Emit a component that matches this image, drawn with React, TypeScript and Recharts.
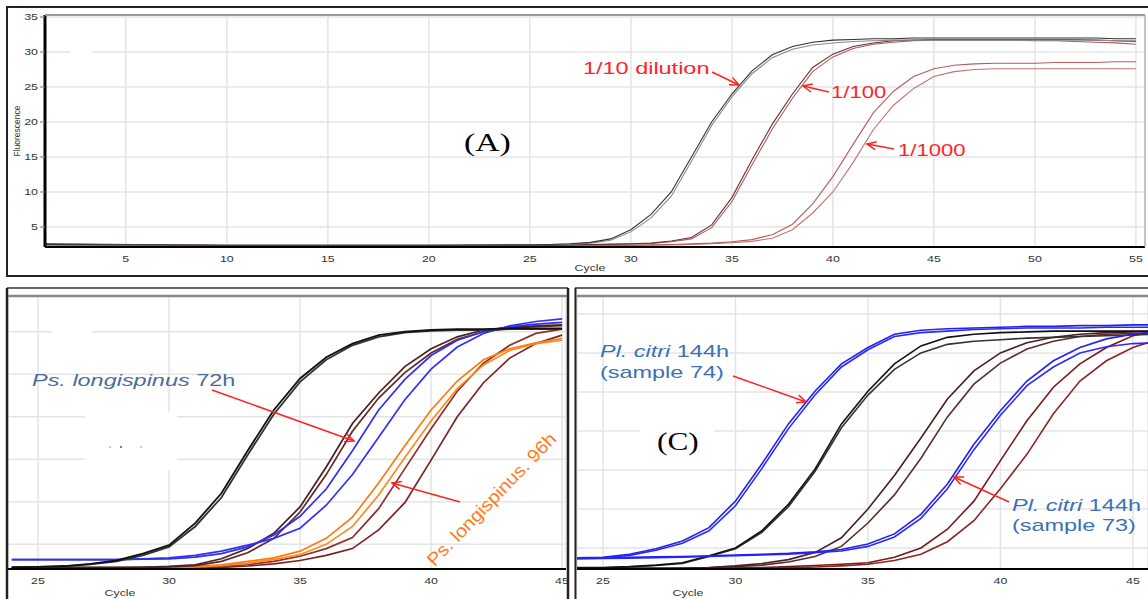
import React from "react";
import { CartesianGrid, Line, LineChart, XAxis, YAxis } from "recharts";

const FONT = "'Liberation Sans', Arial, sans-serif";
const SERIF = "'Liberation Serif', 'Times New Roman', serif";
// the source figure is stretched sideways, so text gets widened too
const SX = 1.38;

// ---- panel A: dilution series ----
const cyclesA = [1, 10, 20, 25, 26, 27, 28, 29, 30, 31, 32, 33, 34, 35, 36, 37, 38, 39, 40, 41, 42, 43, 44, 45, 46, 47, 48, 49, 50, 51, 52, 53, 54, 55];
const dil10a = [2.5, 2.4, 2.4, 2.45, 2.5, 2.6, 2.8, 3.3, 4.6, 6.8, 10.0, 15.0, 20.0, 24.0, 27.3, 29.6, 30.8, 31.4, 31.7, 31.8, 31.9, 31.9, 32.0, 32.0, 32.0, 32.0, 32.0, 32.0, 32.0, 32.0, 32.0, 32.0, 31.9, 31.9];
const dil10b = [2.45, 2.4, 2.4, 2.45, 2.5, 2.55, 2.7, 3.1, 4.3, 6.3, 9.4, 14.4, 19.5, 23.6, 26.9, 29.2, 30.4, 31.0, 31.3, 31.5, 31.6, 31.7, 31.7, 31.7, 31.7, 31.7, 31.7, 31.7, 31.7, 31.7, 31.7, 31.7, 31.6, 31.6];
const dil100a = [2.6, 2.4, 2.4, 2.4, 2.4, 2.45, 2.5, 2.55, 2.6, 2.7, 3.0, 3.5, 5.3, 9.2, 14.6, 19.7, 24.0, 27.8, 29.7, 30.8, 31.3, 31.6, 31.7, 31.8, 31.8, 31.8, 31.8, 31.8, 31.8, 31.8, 31.8, 31.7, 31.6, 31.5];
const dil100b = [2.55, 2.35, 2.35, 2.35, 2.35, 2.4, 2.45, 2.5, 2.55, 2.65, 2.9, 3.3, 4.9, 8.6, 13.9, 19.0, 23.4, 27.2, 29.3, 30.5, 31.1, 31.4, 31.6, 31.7, 31.7, 31.7, 31.7, 31.7, 31.6, 31.6, 31.5, 31.4, 31.3, 31.1];
const dil1000a = [2.5, 2.35, 2.35, 2.35, 2.35, 2.35, 2.35, 2.4, 2.4, 2.45, 2.5, 2.6, 2.7, 2.9, 3.2, 3.9, 5.4, 8.3, 12.2, 16.8, 21.3, 24.4, 26.5, 27.6, 28.1, 28.3, 28.4, 28.4, 28.4, 28.5, 28.5, 28.5, 28.6, 28.6];
const dil1000b = [2.4, 2.3, 2.3, 2.3, 2.3, 2.3, 2.3, 2.35, 2.35, 2.4, 2.45, 2.5, 2.6, 2.75, 2.95, 3.4, 4.6, 7.0, 10.0, 14.2, 18.9, 22.4, 24.8, 26.5, 27.2, 27.5, 27.6, 27.6, 27.6, 27.6, 27.6, 27.6, 27.6, 27.6];
const ticksAX = [5, 10, 15, 20, 25, 30, 35, 40, 45, 50, 55];
const ticksAY = [5, 10, 15, 20, 25, 30, 35];

// ---- panel B: Ps. longispinus ----
const cyclesB = [24, 25, 26, 27, 28, 29, 30, 31, 32, 33, 34, 35, 36, 37, 38, 39, 40, 41, 42, 43, 44, 45];
const blackB1 = [2.3, 2.35, 2.45, 2.7, 3.1, 3.9, 4.9, 7.5, 11.0, 16.0, 20.8, 24.5, 27.0, 28.6, 29.6, 30.0, 30.2, 30.3, 30.3, 30.4, 30.4, 30.4];
const blackB2 = [2.3, 2.35, 2.4, 2.65, 3.0, 3.7, 4.7, 7.1, 10.5, 15.5, 20.3, 24.1, 26.7, 28.4, 29.4, 29.9, 30.1, 30.2, 30.2, 30.3, 30.3, 30.3];
const brownB1 = [2.3, 2.3, 2.3, 2.3, 2.3, 2.3, 2.4, 2.6, 3.3, 4.5, 6.3, 9.4, 14.1, 19.2, 22.8, 25.9, 28.0, 29.4, 30.2, 30.5, 30.7, 30.8];
const brownB2 = [2.25, 2.25, 2.25, 2.25, 2.25, 2.3, 2.35, 2.5, 3.0, 4.0, 5.7, 8.8, 13.2, 18.3, 22.2, 25.2, 27.5, 29.1, 30.0, 30.4, 30.6, 30.7];
const blueB1 = [3.2, 3.2, 3.2, 3.2, 3.2, 3.25, 3.3, 3.5, 3.9, 4.7, 6.1, 8.3, 11.5, 16.0, 20.8, 24.4, 27.2, 29.0, 30.0, 30.6, 30.9, 31.1];
const blueB2 = [3.2, 3.2, 3.2, 3.2, 3.2, 3.3, 3.4, 3.7, 4.2, 4.9, 5.7, 6.9, 9.6, 13.2, 17.6, 22.0, 25.6, 28.2, 29.8, 30.7, 31.2, 31.5];
const orangeB1 = [2.2, 2.2, 2.2, 2.2, 2.2, 2.25, 2.3, 2.4, 2.6, 3.0, 3.4, 4.2, 5.7, 8.2, 12.2, 16.6, 20.8, 24.2, 26.7, 28.0, 28.7, 29.2];
const orangeB2 = [2.2, 2.2, 2.2, 2.2, 2.2, 2.2, 2.25, 2.35, 2.5, 2.8, 3.2, 3.8, 5.0, 7.1, 10.8, 15.2, 19.5, 23.3, 26.1, 27.8, 28.6, 29.0];
const darkRedB1 = [2.2, 2.2, 2.2, 2.2, 2.2, 2.2, 2.2, 2.25, 2.4, 2.6, 3.0, 3.6, 4.5, 5.8, 9.2, 13.9, 18.6, 23.0, 26.3, 28.4, 29.8, 30.3];
const darkRedB2 = [2.15, 2.15, 2.15, 2.15, 2.15, 2.15, 2.15, 2.2, 2.3, 2.45, 2.7, 3.1, 3.7, 4.5, 6.7, 9.9, 14.9, 20.0, 24.0, 26.9, 28.6, 29.6];

// ---- panel C: Pl. citri ----
const cyclesC = [24, 25, 26, 27, 28, 29, 30, 31, 32, 33, 34, 35, 36, 37, 38, 39, 40, 41, 42, 43, 44, 45, 46];
const blue74a = [3.75, 3.8, 4.2, 4.9, 5.9, 7.6, 11.0, 15.8, 20.9, 25.1, 28.6, 30.7, 32.4, 32.9, 33.1, 33.2, 33.3, 33.4, 33.4, 33.5, 33.5, 33.6, 33.6];
const blue74b = [3.7, 3.75, 4.05, 4.7, 5.6, 7.2, 10.4, 15.2, 20.3, 24.6, 28.2, 30.4, 32.1, 32.6, 32.8, 33.0, 33.1, 33.2, 33.2, 33.2, 33.3, 33.3, 33.3];
const blackC1 = [2.5, 2.5, 2.6, 2.8, 3.1, 4.0, 5.0, 7.2, 10.6, 15.1, 20.9, 25.1, 28.6, 30.9, 32.0, 32.4, 32.6, 32.7, 32.8, 32.8, 32.8, 32.8, 32.8];
const blackC2 = [2.45, 2.45, 2.55, 2.75, 3.0, 3.9, 4.9, 7.0, 10.3, 14.8, 20.4, 24.6, 27.9, 30.0, 31.1, 31.5, 31.7, 31.9, 32.0, 32.1, 32.2, 32.3, 32.4];
const brownC1 = [2.4, 2.4, 2.4, 2.4, 2.4, 2.5, 2.7, 3.0, 3.5, 4.4, 6.3, 10.0, 14.3, 19.1, 24.1, 27.7, 30.0, 31.3, 32.0, 32.4, 32.6, 32.7, 32.8];
const brownC2 = [2.35, 2.35, 2.35, 2.35, 2.4, 2.45, 2.6, 2.8, 3.2, 3.9, 5.2, 8.2, 11.8, 16.5, 21.8, 26.0, 28.7, 30.5, 31.5, 32.1, 32.4, 32.5, 32.6];
const blue73a = [3.7, 3.75, 3.8, 3.85, 3.9, 4.0, 4.1, 4.2, 4.3, 4.5, 4.8, 5.5, 6.8, 9.3, 13.2, 18.3, 22.6, 26.4, 29.0, 30.7, 31.8, 32.4, 32.8];
const blue73b = [3.6, 3.65, 3.7, 3.75, 3.8, 3.9, 4.0, 4.1, 4.2, 4.4, 4.6, 5.2, 6.4, 8.8, 12.6, 17.6, 22.0, 25.8, 28.2, 30.0, 30.8, 31.2, 31.3];
const darkRedC1 = [2.35, 2.35, 2.4, 2.4, 2.4, 2.4, 2.45, 2.5, 2.6, 2.75, 2.9, 3.1, 3.8, 5.0, 7.4, 11.0, 16.2, 21.3, 25.6, 28.6, 30.7, 32.2, 32.9];
const darkRedC2 = [2.3, 2.3, 2.3, 2.3, 2.35, 2.35, 2.4, 2.4, 2.45, 2.55, 2.7, 2.9, 3.4, 4.2, 5.8, 8.5, 12.6, 17.0, 22.2, 26.4, 29.0, 30.7, 31.8];

const ticksBCX = [25, 30, 35, 40, 45];
const ticksBY = [5, 10, 15, 20, 25, 30];
const ticksCY = [5, 10, 15, 20, 25, 30, 35];

type Series = { key: string; values: number[]; color: string; width: number };

const seriesA: Series[] = [
  { key: "dil1000b", values: dil1000b, color: "#c27373", width: 1.1 },
  { key: "dil1000a", values: dil1000a, color: "#b65c5c", width: 1.1 },
  { key: "dil100b", values: dil100b, color: "#a85e5e", width: 1.1 },
  { key: "dil100a", values: dil100a, color: "#6e2e2e", width: 1.1 },
  { key: "dil10b", values: dil10b, color: "#8a8a8a", width: 1.1 },
  { key: "dil10a", values: dil10a, color: "#333333", width: 1.1 },
];

const seriesB: Series[] = [
  { key: "darkRedB2", values: darkRedB2, color: "#7d2222", width: 1.7 },
  { key: "darkRedB1", values: darkRedB1, color: "#8e2f2f", width: 1.7 },
  { key: "orangeB2", values: orangeB2, color: "#ff8a1c", width: 1.7 },
  { key: "orangeB1", values: orangeB1, color: "#ff7a0c", width: 1.7 },
  { key: "brownB2", values: brownB2, color: "#5e2a2a", width: 1.7 },
  { key: "brownB1", values: brownB1, color: "#4a1f1f", width: 1.7 },
  { key: "blueB2", values: blueB2, color: "#2f2fff", width: 1.7 },
  { key: "blueB1", values: blueB1, color: "#3030ee", width: 1.7 },
  { key: "blackB2", values: blackB2, color: "#333333", width: 1.8 },
  { key: "blackB1", values: blackB1, color: "#111111", width: 1.8 },
];

const seriesC: Series[] = [
  { key: "darkRedC2", values: darkRedC2, color: "#8e2424", width: 1.6 },
  { key: "darkRedC1", values: darkRedC1, color: "#7a1818", width: 1.6 },
  { key: "brownC2", values: brownC2, color: "#5e2c2c", width: 1.6 },
  { key: "brownC1", values: brownC1, color: "#4a1e1e", width: 1.6 },
  { key: "blackC2", values: blackC2, color: "#333333", width: 1.6 },
  { key: "blackC1", values: blackC1, color: "#111111", width: 1.6 },
  { key: "blue73b", values: blue73b, color: "#2a2aff", width: 1.6 },
  { key: "blue73a", values: blue73a, color: "#2222ee", width: 1.6 },
  { key: "blue74b", values: blue74b, color: "#2a2aff", width: 1.6 },
  { key: "blue74a", values: blue74a, color: "#2222ee", width: 1.6 },
];

const buildRows = (cycles: number[], series: Series[]) =>
  cycles.map((cycle, i) => {
    const row: Record<string, number> = { cycle };
    series.forEach((s) => {
      row[s.key] = s.values[i];
    });
    return row;
  });

function XTick({ x, y, payload }: any) {
  return (
    <g transform={`translate(${x},${y})`}>
      <text transform={`scale(${SX},1)`} textAnchor="middle" dy="0.71em" fontSize={9} fill="#333" fontFamily={FONT}>
        {payload.value}
      </text>
    </g>
  );
}

function YTick({ x, y, payload }: any) {
  return (
    <g transform={`translate(${x},${y})`}>
      <text transform={`scale(${SX},1)`} textAnchor="end" dy="0.35em" fontSize={9} fill="#333" fontFamily={FONT}>
        {payload.value}
      </text>
    </g>
  );
}

type ChartProps = {
  series: Series[];
  cycles: number[];
  width: number;
  height: number;
  margin: { top: number; right: number; bottom: number; left: number };
  xDomain: [number, number];
  xTicks: number[];
  yDomain: [number, number];
  yTicks: number[];
  showY: boolean;
};

function QpcrChart({ series, cycles, width, height, margin, xDomain, xTicks, yDomain, yTicks, showY }: ChartProps) {
  const rows = buildRows(cycles, series);
  return (
    <LineChart width={width} height={height} data={rows} margin={margin}>
      <CartesianGrid stroke="#e4e4e4" strokeWidth={1.5} />
      {series.map((s) => (
        <Line
          key={s.key}
          type="linear"
          dataKey={s.key}
          stroke={s.color}
          strokeWidth={s.width}
          dot={false}
          isAnimationActive={false}
        />
      ))}
      <XAxis
        dataKey="cycle"
        type="number"
        domain={xDomain}
        ticks={xTicks}
        allowDataOverflow
        height={showY ? 29 : 30}
        axisLine={{ stroke: "#000", strokeWidth: 2 }}
        tickLine={false}
        tickMargin={3}
        tick={<XTick />}
      />
      <YAxis
        type="number"
        domain={yDomain}
        ticks={yTicks}
        allowDataOverflow
        hide={!showY}
        width={45}
        axisLine={{ stroke: "#000", strokeWidth: 3 }}
        tickLine={{ stroke: "#777" }}
        tickSize={5}
        tickMargin={2}
        tick={<YTick />}
      />
    </LineChart>
  );
}

function StretchText({
  x,
  y,
  size,
  color,
  family = FONT,
  sx = SX,
  rotate = 0,
  children,
}: {
  x: number;
  y: number;
  size: number;
  color: string;
  family?: string;
  sx?: number;
  rotate?: number;
  children: React.ReactNode;
}) {
  return (
    <g transform={`translate(${x},${y}) rotate(${rotate}) scale(${sx},1)`}>
      <text x={0} y={0} fontSize={size} fill={color} fontFamily={family} dominantBaseline="central">
        {children}
      </text>
    </g>
  );
}

function Arrow({ from, to }: { from: [number, number]; to: [number, number] }) {
  const [x1, y1] = from;
  const [x2, y2] = to;
  const a = Math.atan2(y2 - y1, x2 - x1);
  const len = 10;
  const spread = 0.42;
  const h1 = `${x2 - len * Math.cos(a - spread)},${y2 - len * Math.sin(a - spread)}`;
  const h2 = `${x2 - len * Math.cos(a + spread)},${y2 - len * Math.sin(a + spread)}`;
  return (
    <g stroke="#f22" strokeWidth={1.5} fill="none">
      <line x1={x1} y1={y1} x2={x2} y2={y2} />
      <polyline points={`${h1} ${x2},${y2} ${h2}`} />
    </g>
  );
}

const RED = "#ff2424";
const BLUE_TXT = "#3d70b4";

export default function App() {
  return (
    <div style={{ position: "absolute", left: 0, top: 0, width: 1148, height: 599, overflow: "hidden", background: "#fff" }}>
      <div style={{ position: "absolute", left: 0, top: 0 }}>
        <QpcrChart
          series={seriesA}
          cycles={cyclesA}
          width={1148}
          height={276}
          margin={{ top: 15, right: 3, bottom: 0, left: 0 }}
          xDomain={[1, 55.45]}
          xTicks={ticksAX}
          yDomain={[2.14, 35.29]}
          yTicks={ticksAY}
          showY
        />
      </div>
      <div style={{ position: "absolute", left: 0, top: 280 }}>
        <QpcrChart
          series={seriesB}
          cycles={cyclesB}
          width={570}
          height={319}
          margin={{ top: 16, right: 4, bottom: 0, left: 8 }}
          xDomain={[23.855, 45.15]}
          xTicks={ticksBCX}
          yDomain={[2.1, 34.2]}
          yTicks={ticksBY}
          showY={false}
        />
      </div>
      <div style={{ position: "absolute", left: 570, top: 280 }}>
        <QpcrChart
          series={seriesC}
          cycles={cyclesC}
          width={578}
          height={319}
          margin={{ top: 16, right: 0, bottom: 0, left: 7 }}
          xDomain={[24.02, 45.57]}
          xTicks={ticksBCX}
          yDomain={[2.3, 37.3]}
          yTicks={ticksCY}
          showY={false}
        />
      </div>

      <svg width={1148} height={599} style={{ position: "absolute", left: 0, top: 0, pointerEvents: "none" }}>
        {/* whited-out patches in the original */}
        <rect x={70} y={50} width={22} height={6} fill="#fff" />
        <rect x={52} y={328} width={40} height={6} fill="#fff" />
        <rect x={85} y={412} width={92} height={58} fill="#fff" />
        <rect x={640} y={424} width={75} height={36} fill="#fff" />
        <circle cx={110} cy={447} r={0.8} fill="#888" />
        <circle cx={121} cy={447} r={1} fill="#555" />
        <circle cx={141} cy={447} r={0.8} fill="#888" />

        {/* panel frames */}
        <rect x={7} y={7} width={1160} height={269} fill="none" stroke="#222" strokeWidth={2} />
        <line x1={45} y1={15} x2={1145} y2={15} stroke="#999" strokeWidth={2} />
        <line x1={1145} y1={15} x2={1145} y2={247} stroke="#b5b5b5" strokeWidth={1.5} />

        <line x1={7} y1={288} x2={568} y2={288} stroke="#333" strokeWidth={1.5} />
        <line x1={7} y1={288} x2={7} y2={599} stroke="#222" strokeWidth={2.5} />
        <line x1={568} y1={288} x2={568} y2={599} stroke="#222" strokeWidth={2.5} />
        <line x1={8} y1={296} x2={567} y2={296} stroke="#888" strokeWidth={2.5} />

        <line x1={575} y1={288} x2={1148} y2={288} stroke="#333" strokeWidth={1.5} />
        <line x1={575.5} y1={288} x2={575.5} y2={599} stroke="#222" strokeWidth={2} />
        <line x1={577} y1={296} x2={1148} y2={296} stroke="#888" strokeWidth={2.5} />

        {/* axis titles */}
        <g transform="translate(17,131) rotate(-90)">
          <text textAnchor="middle" dominantBaseline="central" fontSize={8.5} fill="#333" fontFamily={FONT}>
            Fluorescence
          </text>
        </g>
        <g transform={`translate(590,268) scale(${SX},1)`}>
          <text textAnchor="middle" dominantBaseline="central" fontSize={9} fill="#333" fontFamily={FONT}>Cycle</text>
        </g>
        <g transform={`translate(120,593) scale(${SX},1)`}>
          <text textAnchor="middle" dominantBaseline="central" fontSize={9} fill="#333" fontFamily={FONT}>Cycle</text>
        </g>
        <g transform={`translate(688,593) scale(${SX},1)`}>
          <text textAnchor="middle" dominantBaseline="central" fontSize={9} fill="#333" fontFamily={FONT}>Cycle</text>
        </g>

        {/* panel A notes */}
        <StretchText x={464} y={143} size={25} color="#000" family={SERIF} sx={1.35}>(A)</StretchText>
        <StretchText x={583} y={68} size={17} color={RED}>1/10 dilution</StretchText>
        <Arrow from={[712, 72]} to={[739, 85]} />
        <StretchText x={831} y={92} size={17} color={RED} sx={1.3}>1/100</StretchText>
        <Arrow from={[829, 92]} to={[803, 86]} />
        <StretchText x={898} y={150} size={17} color={RED} sx={1.3}>1/1000</StretchText>
        <Arrow from={[894, 149]} to={[867, 144]} />

        {/* panel B notes */}
        <StretchText x={32} y={379} size={17} color="#4a6c9b">
          <tspan fontStyle="italic">Ps. longispinus</tspan>
          <tspan> 72h</tspan>
        </StretchText>
        <Arrow from={[212, 390]} to={[354, 441]} />
        <StretchText x={430} y={563} size={18} color="#ff7a1a" sx={1.1} rotate={-46}>
          Ps. longispinus. 96h
        </StretchText>
        <Arrow from={[460, 502]} to={[392, 483]} />

        {/* panel C notes */}
        <StretchText x={600} y={350} size={17} color={BLUE_TXT}>
          <tspan fontStyle="italic">Pl. citri</tspan>
          <tspan> 144h</tspan>
        </StretchText>
        <StretchText x={600} y={372} size={17} color={BLUE_TXT}>(sample 74)</StretchText>
        <Arrow from={[733, 376]} to={[806, 402]} />
        <StretchText x={657} y={442} size={25} color="#000" family={SERIF} sx={1.25}>(C)</StretchText>
        <StretchText x={1012} y={504} size={17} color={BLUE_TXT}>
          <tspan fontStyle="italic">Pl. citri</tspan>
          <tspan> 144h</tspan>
        </StretchText>
        <StretchText x={1012} y={525} size={17} color={BLUE_TXT}>(sample 73)</StretchText>
        <Arrow from={[1009, 502]} to={[954, 477]} />
      </svg>
    </div>
  );
}
